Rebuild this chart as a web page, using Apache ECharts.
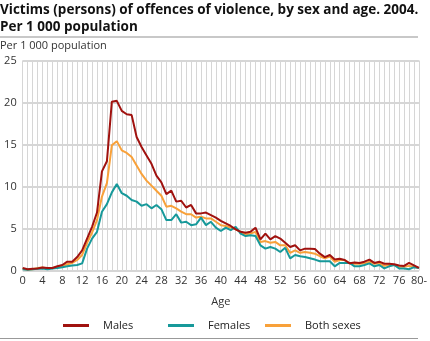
<!DOCTYPE html>
<html><head><meta charset="utf-8">
<script src="https://cdn.jsdelivr.net/npm/echarts@6/dist/echarts.min.js"></script>
<style>html,body{margin:0;padding:0;background:#fff}#c{width:430px;height:341px}</style>
</head><body><div id="c"></div>
<script>
var ages = [];
for (var i = 0; i <= 80; i++) ages.push(i === 80 ? '80-' : String(i));
var males = [0.3,0.15,0.2,0.25,0.35,0.3,0.3,0.5,0.65,1.05,1.05,1.6,2.4,3.8,5.2,6.9,11.8,13.0,20.1,20.2,19.0,18.6,18.5,15.9,14.7,13.7,12.7,11.3,10.5,9.1,9.5,8.2,8.3,7.5,7.8,6.8,6.8,6.9,6.6,6.3,5.9,5.6,5.3,4.9,4.6,4.5,4.6,5.1,3.7,4.4,3.7,4.1,3.8,3.3,2.8,3.0,2.4,2.6,2.6,2.55,2.0,1.6,1.85,1.3,1.4,1.25,0.85,0.95,0.9,1.05,1.3,0.9,1.05,0.8,0.8,0.75,0.6,0.55,0.9,0.6,0.3];
var females = [0.15,0.1,0.15,0.2,0.25,0.15,0.25,0.3,0.4,0.5,0.6,0.65,0.85,2.6,3.8,4.6,7.0,7.9,9.3,10.3,9.2,8.9,8.4,8.2,7.7,7.9,7.4,7.8,7.3,6.0,6.0,6.7,5.7,5.8,5.4,5.5,6.3,5.4,5.8,5.1,4.7,5.1,4.8,5.2,4.4,4.1,4.2,4.1,3.0,2.6,2.8,2.6,2.2,2.7,1.45,1.85,1.7,1.6,1.45,1.3,1.1,1.1,1.1,0.5,0.9,0.9,0.9,0.5,0.5,0.65,0.85,0.5,0.65,0.25,0.5,0.65,0.25,0.25,0.15,0.4,0.3];
var both = [0.2,0.1,0.15,0.3,0.35,0.25,0.3,0.45,0.55,0.75,0.9,1.25,1.85,3.3,4.5,6.0,8.8,10.4,14.9,15.4,14.3,14.0,13.5,12.5,11.5,10.7,10.1,9.5,8.9,7.6,7.7,7.4,7.0,6.7,6.7,6.3,6.4,6.2,6.2,5.8,5.4,5.3,5.1,4.9,4.6,4.3,4.4,4.6,3.4,3.5,3.3,3.4,3.0,3.0,2.1,2.4,2.1,2.2,2.1,2.0,1.7,1.45,1.65,1.05,1.25,1.25,0.85,0.8,0.8,0.85,1.05,0.8,0.85,0.55,0.65,0.65,0.45,0.45,0.55,0.45,0.3];
var yTicks = [0, 5, 10, 15, 20, 25];

var FONT = 'Open Sans';
var C_M = '#a0120f', C_F = '#17999a', C_B = '#f8a13a';
var chart = echarts.init(document.getElementById('c'), null, {renderer: 'canvas'});
function leg(name, color, left) {
  return {
    data: [name], left: left, top: 315, itemWidth: 26, itemHeight: 3, icon: 'rect',
    textStyle: {fontFamily: FONT, fontSize: 11, color: '#222', padding: [4, 0, 0, 9]},
    itemStyle: {color: color}, selectedMode: false
  };
}
chart.setOption({
  animation: false,
  title: {
    text: 'Victims (persons) of offences of violence, by sex and age. 2004.\nPer 1 000 population',
    left: 0, top: 2, padding: 0,
    textStyle: {fontFamily: FONT, fontSize: 13.5, fontWeight: 'bold', color: '#111', lineHeight: 17}
  },
  legend: [leg('Males', C_M, 58), leg('Females', C_F, 163), leg('Both sexes', C_B, 260)],
  grid: {left: 22.7, right: 10, top: 60.5, bottom: 70.5, containLabel: false},
  xAxis: {
    type: 'category', data: ages, boundaryGap: false,
    name: 'Age', nameLocation: 'middle', nameGap: 26,
    nameTextStyle: {fontFamily: FONT, fontSize: 11, color: '#333'},
    axisLine: {show: false}, axisTick: {show: false},
    axisLabel: {interval: 3, fontFamily: FONT, fontSize: 11, color: '#333', margin: 5},
    splitLine: {show: true, interval: 0, lineStyle: {color: '#d6d6d6', width: 1}}
  },
  yAxis: {
    type: 'value', min: 0, max: 25, interval: 5,
    axisLine: {show: false}, axisTick: {show: false},
    axisLabel: {fontFamily: FONT, fontSize: 11, color: '#333', margin: 6},
    splitLine: {show: true, lineStyle: {color: '#d6d6d6', width: 2}}
  },
  series: [
    {name: 'Both sexes', type: 'line', data: both, symbol: 'none', lineStyle: {color: C_B, width: 2}, itemStyle: {color: C_B}},
    {name: 'Females', type: 'line', data: females, symbol: 'none', lineStyle: {color: C_F, width: 2}, itemStyle: {color: C_F}},
    {name: 'Males', type: 'line', data: males, symbol: 'none', lineStyle: {color: C_M, width: 2}, itemStyle: {color: C_M}}
  ],
  graphic: [
    {type: 'rect', shape: {x: 0, y: 36, width: 418, height: 2}, style: {fill: '#c8c8c8'}},
    {type: 'text', left: 0, top: 40, style: {text: 'Per 1 000 population', font: '11px "Open Sans"', fill: '#333'}},
    {type: 'rect', shape: {x: 0, y: 338, width: 418, height: 1}, style: {fill: '#999'}}
  ]
});
</script></body></html>
